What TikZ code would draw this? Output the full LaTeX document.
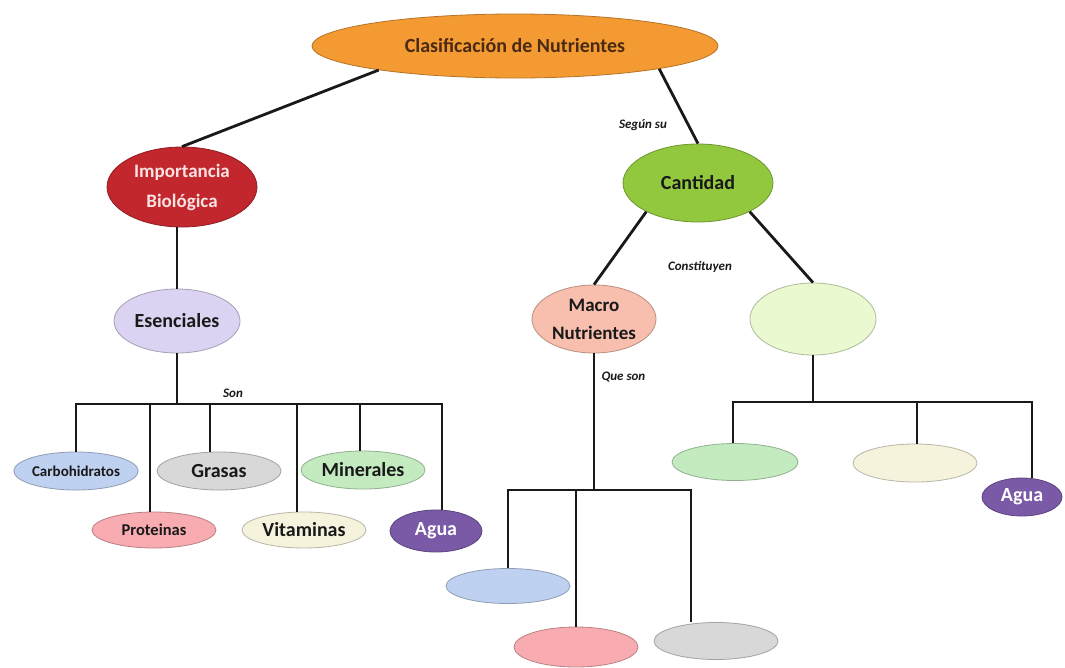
\documentclass[tikz,border=0pt]{standalone}
\usepackage{fontspec}
\setmainfont{Carlito}
\usetikzlibrary{shapes.geometric}

\definecolor{naranja}{HTML}{F39A33}
\definecolor{marron}{HTML}{4A2A12}
\definecolor{rojo}{HTML}{C1272D}
\definecolor{rosatxt}{HTML}{F8E2E2}
\definecolor{lila}{HTML}{DCD3F2}
\definecolor{azul}{HTML}{BFD1F0}
\definecolor{gris}{HTML}{D8D8D8}
\definecolor{verdeclaro}{HTML}{C3EBBF}
\definecolor{rosa}{HTML}{F8ABB0}
\definecolor{crema}{HTML}{F5F3DC}
\definecolor{morado}{HTML}{7A59A6}
\definecolor{verde}{HTML}{92C83E}
\definecolor{salmon}{HTML}{F8BFAE}
\definecolor{verdepalido}{HTML}{EAF9CF}

\begin{document}
\begin{tikzpicture}[
    x=1pt, y=-1pt, % pixel-like units, y grows downwards
    every node/.style={font=\bfseries\fontsize{20}{24}\selectfont, text=black!90},
    burbuja/.style={ellipse, draw=#1!75!black, fill=#1, inner sep=0pt, line width=0.8pt},
    chica/.style={minimum width=124pt, minimum height=38pt},
    conector/.style={line width=2.8pt, black!90},
    etiqueta/.style={font=\bfseries\itshape\fontsize{13}{15}\selectfont}
  ]
  \useasboundingbox[fill=white] (0,0) rectangle (1065,667);

  % root
  \node[burbuja=naranja, minimum width=406pt, minimum height=64pt, text=marron] (clasif) at (515,46) {Clasificación de Nutrientes};

  % left branch
  \node[burbuja=rojo, minimum width=150pt, minimum height=80pt, text=rosatxt, align=center,
        font=\bfseries\fontsize{19}{30}\selectfont] (imp) at (182,187) {Importancia\\Biológica};
  \node[burbuja=lila, minimum width=126pt, minimum height=64pt] (esen) at (177,321) {Esenciales};

  \node[burbuja=azul, chica, font=\bfseries\fontsize{15}{18}\selectfont] (carbo) at (76,471) {Carbohidratos};
  \node[burbuja=gris, chica] (grasas) at (219,471) {Grasas};
  \node[burbuja=verdeclaro, chica] (miner) at (363,470) {Minerales};
  \node[burbuja=rosa, chica, minimum height=36pt, font=\bfseries\fontsize{16.5}{18}\selectfont] (prot) at (154,530) {Proteinas};
  \node[burbuja=crema, chica, minimum height=36pt] (vitam) at (304,530) {Vitaminas};
  \node[burbuja=morado, minimum width=92pt, minimum height=42pt, text=white] (agua1) at (436,531) {Agua};

  % right branch
  \node[burbuja=verde, minimum width=150pt, minimum height=78pt] (cant) at (698,183) {Cantidad};
  \node[burbuja=salmon, minimum width=124pt, minimum height=68pt, align=center,
        font=\bfseries\fontsize{19}{28}\selectfont] (macro) at (594,319) {Macro\\Nutrientes};
  \node[burbuja=verdepalido, minimum width=126pt, minimum height=72pt] (micro) at (813,319) {};

  \node[burbuja=azul, chica, minimum height=35pt] (macro1) at (508,586) {};
  \node[burbuja=rosa, chica, minimum height=40pt] (macro2) at (576,647) {};
  \node[burbuja=gris, chica, minimum height=37pt] (macro3) at (716,641) {};

  \node[burbuja=verdeclaro, minimum width=126pt, minimum height=37pt] (micro1) at (735,462) {};
  \node[burbuja=crema, chica] (micro2) at (915,463) {};
  \node[burbuja=morado, minimum width=80pt, minimum height=38pt, text=white] (agua2) at (1022,497) {Agua};

  % connecting words
  \node[etiqueta] (segun) at (643,125) {Según su};
  \node[etiqueta] (const) at (700,267) {Constituyen};
  \node[etiqueta, anchor=west] (queson) at (598,377) {Que son};
  \node[etiqueta] (son) at (233,393) {Son};

  % bus junctions
  \coordinate (bus1) at (esen.south |- 0,404);
  \coordinate (bus2) at (macro.south |- 0,490);
  \coordinate (bus3) at (micro.south |- 0,402);

  \draw[conector] (clasif.190) -- (imp.north);
  \draw[conector] (clasif.-9) -- (cant.north);
  \draw[conector] (esen.north |- imp.south) -- (esen.north);
  \draw[conector] (cant.209) -- (macro.north);
  \draw[conector] (cant.-29) -- (micro.north);

  \draw[conector] (esen.south) -- (bus1);
  \draw[conector] (carbo.north) |- (bus1);
  \draw[conector] ([xshift=-4pt]prot.north) |- (bus1);
  \draw[conector] ([xshift=-9pt]grasas.north) |- (bus1);
  \draw[conector] ([xshift=-7pt]vitam.north) |- (bus1);
  \draw[conector] ([xshift=-3pt]miner.north) |- (bus1);
  \draw[conector] ([xshift=6pt]agua1.north) |- (bus1);

  \draw[conector] (macro.south) -- (bus2);
  \draw[conector] (macro1.north) |- (bus2);
  \draw[conector] (macro2.north) |- (bus2);
  \draw[conector] ([xshift=-25pt]macro3.north) |- (bus2);

  \draw[conector] (micro.south) -- (bus3);
  \draw[conector] ([xshift=-2pt]micro1.north) |- (bus3);
  \draw[conector] ([xshift=2pt]micro2.north) |- (bus3);
  \draw[conector] ([xshift=10pt]agua2.north) |- (bus3);
\end{tikzpicture}
\end{document}
